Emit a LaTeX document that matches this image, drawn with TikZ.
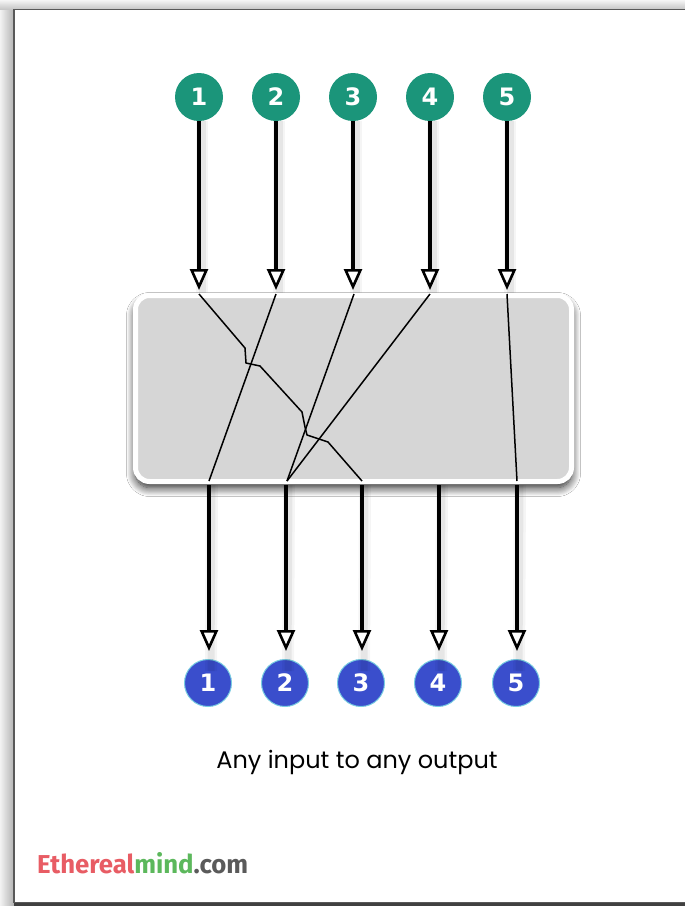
\documentclass[tikz,border=0pt]{standalone}
\usepackage{fontspec}
\setmainfont{Poppins}
\newfontfamily\numfont{DejaVu Sans}
\newfontfamily\logofont{Fira Sans}
\usetikzlibrary{arrows.meta,shadows.blur}
\definecolor{ingreen}{RGB}{27,149,122}
\definecolor{outblue}{RGB}{58,78,204}
\definecolor{outrim}{RGB}{120,205,225}
\definecolor{boxgray}{RGB}{214,214,214}
\definecolor{logored}{RGB}{232,92,100}
\definecolor{logogreen}{RGB}{92,184,92}
\definecolor{logogray}{RGB}{90,90,90}
\begin{document}
\begin{tikzpicture}[x=1pt,y=-1pt,
  incirc/.style={circle,fill=ingreen,minimum size=48pt,inner sep=0pt,text=white,font=\numfont\bfseries\fontsize{24}{24}\selectfont},
  outcirc/.style={circle,fill=outblue,draw=outrim,line width=1pt,minimum size=47pt,inner sep=0pt,text=white,font=\numfont\bfseries\fontsize{24}{24}\selectfont},
  arr/.style={draw=black,line width=3.3pt,-{Triangle[fill=white,length=21pt,width=18pt,line width=2.6pt]}},
  arrshade/.style={draw=black,line width=12pt,opacity=0.04},
  arrshade2/.style={draw=black,line width=7pt,opacity=0.06},
  wire/.style={draw=black,line width=1.5pt,line join=round},
  swbox/.style={rectangle,rounded corners=14pt,minimum width=436pt,minimum height=186pt,fill=boxgray,draw=white,line width=5pt,
     blur shadow={shadow xshift=0pt,shadow yshift=-6pt,shadow blur radius=9pt,shadow opacity=90,shadow blur steps=12}}
]
\useasboundingbox (0,0) rectangle (685,906);
\fill[white] (0,0) rectangle (685,906);
% page frame and its shadow
\shade[left color=black!5,right color=black!30] (0,0) rectangle (14,906);
\shade[top color=black!4,bottom color=black!22] (0,0) rectangle (685,9);
\draw[black!65,line width=1.6pt,fill=white] (14,9.5) rectangle (700,902.5);
\fill[black!75] (14,903) rectangle (685,906);

% inputs
\foreach \i/\x in {1/199,2/276,3/353,4/430,5/507}{
  \node[incirc] (i\i) at (\x,97) {\i};
  \coordinate (ta\i) at (\x,290);
}
% outputs
\foreach \i/\x in {1/209,2/286,3/362,4/439,5/517}{
  \node[outcirc] (o\i) at (\x-1,683) {\i};
  \coordinate (bb\i) at (\x,485);
}

% arrow shadows
\foreach \i in {1,...,5}{
  \draw[arrshade] ([xshift=3pt]i\i.south) -- ([xshift=3pt,yshift=-4pt]ta\i);
  \draw[arrshade2] ([xshift=3pt]i\i.south) -- ([xshift=3pt,yshift=-4pt]ta\i);
}
\foreach \i/\x in {1/209,2/286,3/362,4/439,5/517}{
  \draw[arrshade] ([xshift=3pt]bb\i) -- ([xshift=3pt,yshift=-12pt]o\i.north);
  \draw[arrshade2] ([xshift=3pt]bb\i) -- ([xshift=3pt,yshift=-12pt]o\i.north);
}

% switch fabric box
\node[swbox] (sw) at (353.5,388.5) {};

% wires inside box
\coordinate (w1s) at (199,294);
\coordinate (w2s) at (276,294);
\coordinate (w3s) at (354,294);
\coordinate (w4s) at (430,294);
\coordinate (w5s) at (507,294);
\coordinate (w1e) at (362,481);
\coordinate (w2e) at (209,481);
\coordinate (w3e) at (287,481);
\coordinate (w4e) at (287,481);
\coordinate (w5e) at (517,481);
\draw[wire] (w1s) -- (245,348) -- (246,363) -- (260,366) -- (302,412) -- (305,427) -- (307,435) -- (328,442) -- (w1e);
\draw[wire] (w2s) -- (w2e);
\draw[wire] (w3s) -- (w3e);
\draw[wire] (w4s) -- (w4e);
\draw[wire] (w5s) -- (w5e);

% arrows
\foreach \i in {1,...,5}{
  \draw[arr] (i\i) -- (ta\i);
  \draw[arr,shorten >=8pt] (bb\i) -- (o\i.north -| bb\i);
}

% caption
\node (cap) at (357,762) {\fontsize{24}{28}\selectfont Any input to any output};

% logo
\node[anchor=base west,inner sep=0pt] (logo) at (37,873)
  {\resizebox{211pt}{21pt}{\logofont\bfseries\color{logored}Ethereal\color{logogreen}mind\color{logogray}.com}};
\end{tikzpicture}
\end{document}
